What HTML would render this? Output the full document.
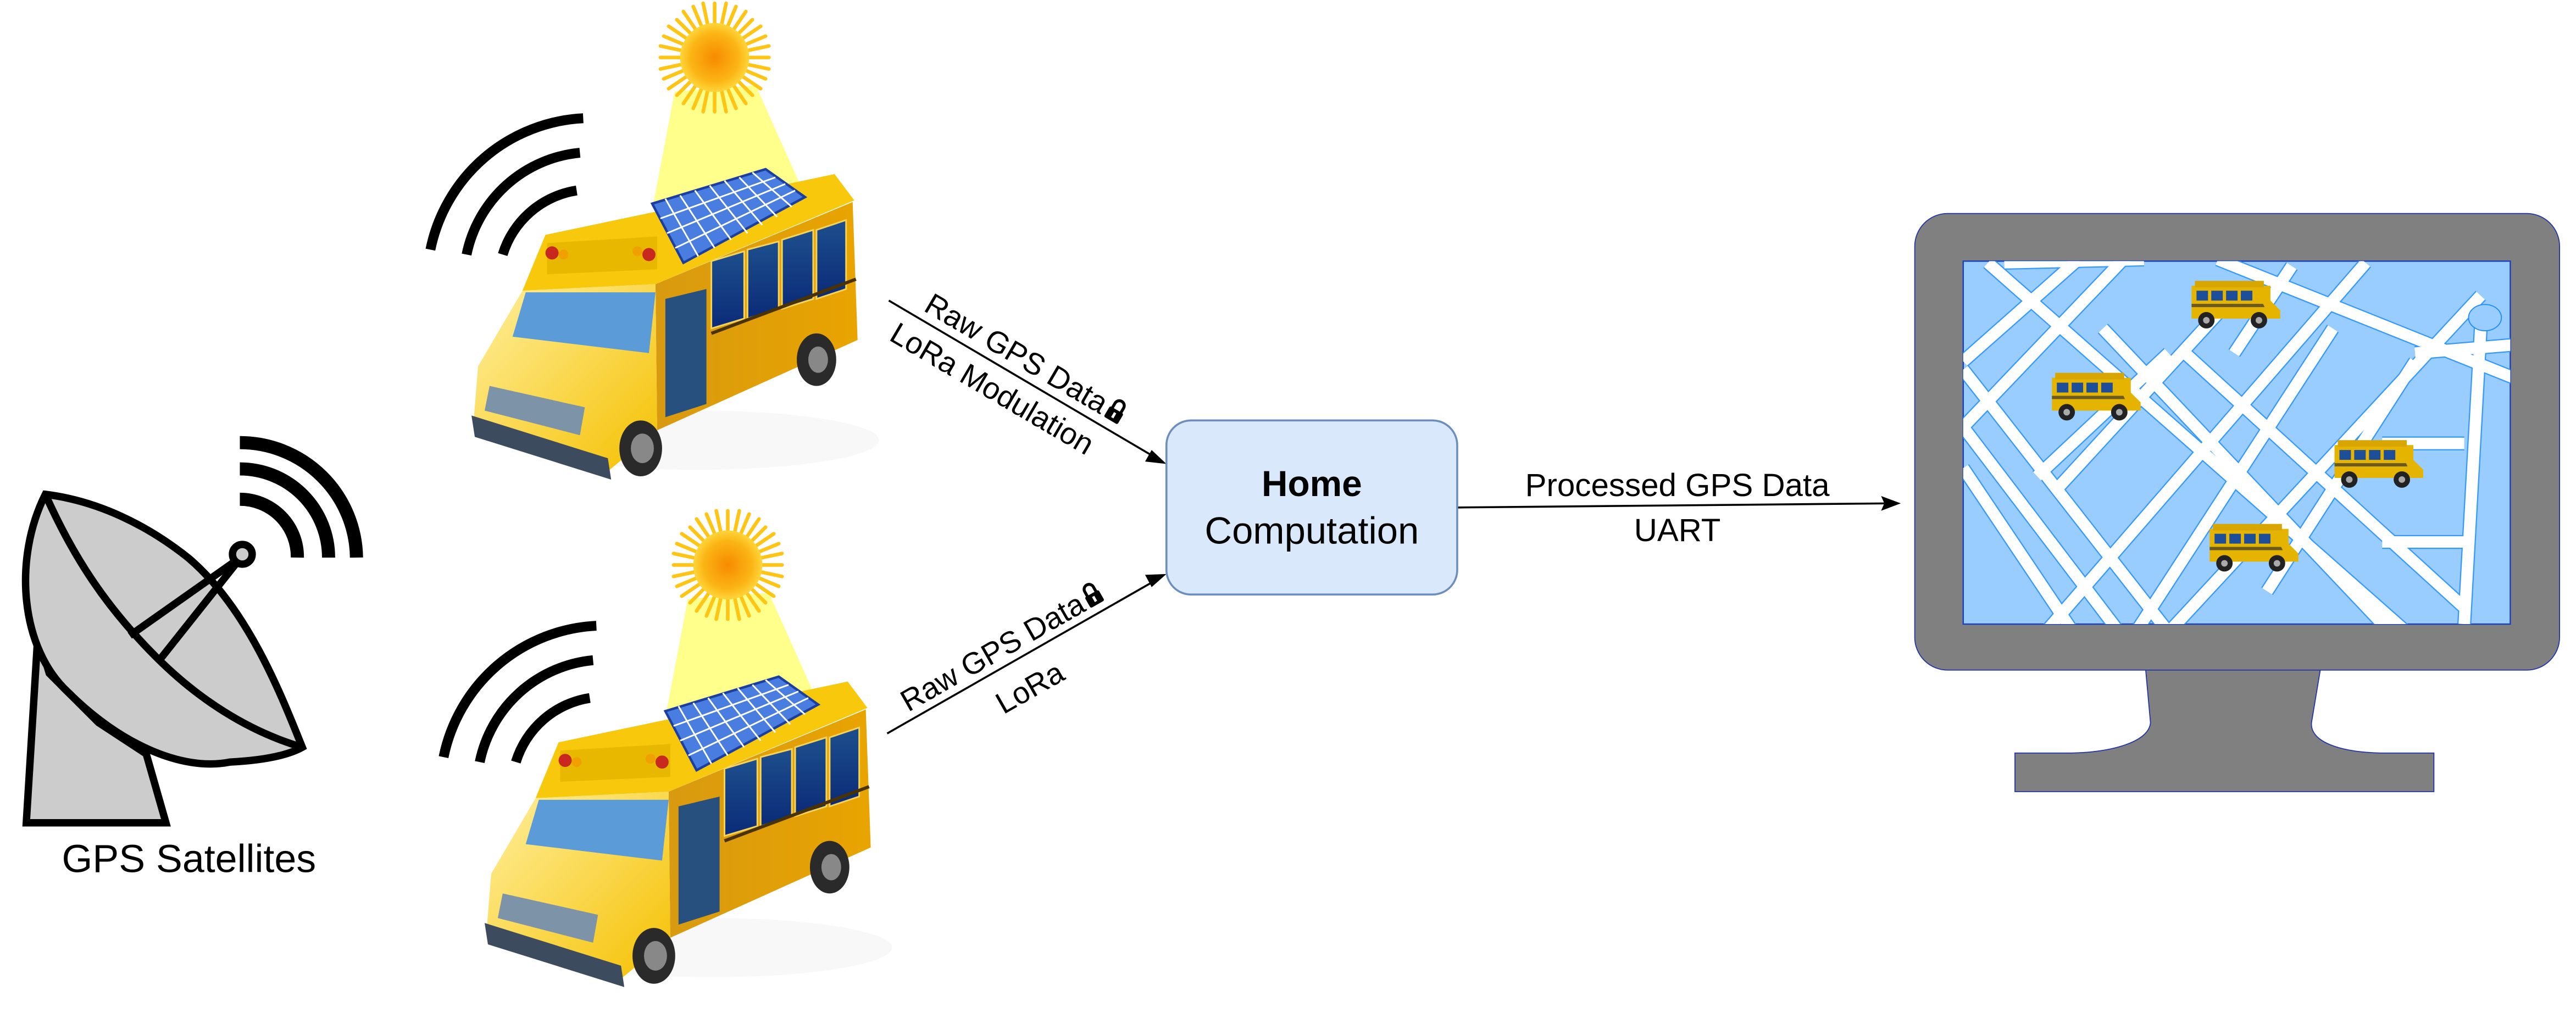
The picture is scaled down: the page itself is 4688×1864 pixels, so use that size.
<!DOCTYPE html>
<html><head><meta charset="utf-8"><style>
html,body{margin:0;padding:0;background:#fff;}
svg{display:block;}
text{font-family:"Liberation Sans",Arial,sans-serif;fill:#000;}
</style></head><body>
<svg width="4688" height="1864" viewBox="0 0 1568 623.5" preserveAspectRatio="none" xmlns="http://www.w3.org/2000/svg">
<defs>
  <radialGradient id="sunG" cx="50%" cy="50%" r="50%">
    <stop offset="0" stop-color="#f78a00"/><stop offset="0.7" stop-color="#fbb515"/><stop offset="1" stop-color="#ffd53a"/>
  </radialGradient>
  <linearGradient id="side" x1="0" y1="0" x2="1" y2="0">
    <stop offset="0" stop-color="#d89a10"/><stop offset="1" stop-color="#e9a400"/>
  </linearGradient>
  <linearGradient id="front" x1="0" y1="0" x2="1" y2="1">
    <stop offset="0" stop-color="#fff0a0"/><stop offset="1" stop-color="#f5c000"/>
  </linearGradient>
  <linearGradient id="win" x1="0" y1="0" x2="0" y2="1">
    <stop offset="0" stop-color="#1d4f8c"/><stop offset="1" stop-color="#0b2b78"/>
  </linearGradient>
  <clipPath id="scr"><rect x="1195" y="159" width="333" height="221"/></clipPath>
  <g id="sun">
    <g stroke="#ffc414" stroke-width="2.2" stroke-linecap="round">
      <line x1="435" y1="2" x2="435" y2="68"/><line x1="402" y1="35" x2="468" y2="35"/>
      <line x1="412" y1="12" x2="458" y2="58"/><line x1="458" y1="12" x2="412" y2="58"/>
      <line x1="422" y1="4" x2="448" y2="66"/><line x1="448" y1="4" x2="422" y2="66"/>
      <line x1="404" y1="22" x2="466" y2="48"/><line x1="404" y1="48" x2="466" y2="22"/>
      <line x1="428" y1="2" x2="442" y2="68"/><line x1="442" y1="2" x2="428" y2="68"/>
      <line x1="402" y1="28" x2="468" y2="42"/><line x1="402" y1="42" x2="468" y2="28"/>
      <line x1="416" y1="7" x2="454" y2="63"/><line x1="454" y1="7" x2="416" y2="63"/>
      <line x1="407" y1="16" x2="463" y2="54"/><line x1="407" y1="54" x2="463" y2="16"/>
    </g>
    <circle cx="435" cy="35" r="21" fill="url(#sunG)"/>
  </g>
  <g id="bus">
    <ellipse cx="425" cy="268" rx="110" ry="18" fill="#f2f2f2" opacity="0.5"/>
    <polygon points="410.7,55.7 460,52 490,119 397.9,123" fill="#ffff80" opacity="0.9"/>
    <polygon points="399,173 519,123 522,207 400,262" fill="url(#side)"/>
    <polygon points="332,143 508,106 520,122 399,173 318,177" fill="#f7c80c"/>
    <polygon points="318,177 399,173 400,262 370,287 288,260 291,223" fill="url(#front)"/>
    <polygon points="320,178 399,178 395,215 312,205" fill="#5b9bd8"/>
    <polygon points="298,235 356,248 353,265 295,250" fill="#7d93a8"/>
    <polygon points="287,253 370,279 372,292 289,266" fill="#3c4c5e"/>
    <polygon points="433,159 453,153 453,194 433,200" fill="url(#win)" stroke="#f4d35a" stroke-width="1"/>
    <polygon points="455,152 474,147 474,188 455,194" fill="url(#win)" stroke="#f4d35a" stroke-width="1"/>
    <polygon points="476,146 495,140 495,182 476,188" fill="url(#win)" stroke="#f4d35a" stroke-width="1"/>
    <polygon points="497,140 515,134 515,176 497,182" fill="url(#win)" stroke="#f4d35a" stroke-width="1"/>
    <polygon points="405,182 430,176 430,246 405,254" fill="#27507e"/>
    <line x1="433" y1="203" x2="521" y2="170" stroke="#4a3300" stroke-width="2"/>
    <polygon points="333,148 400,144 400,164 333,167" fill="#e8b800"/>
    <circle cx="336" cy="154" r="4" fill="#c8281e"/><circle cx="343" cy="155" r="3" fill="#f0a000"/>
    <circle cx="388" cy="153" r="3" fill="#f0a000"/><circle cx="395" cy="155" r="4" fill="#c8281e"/>
    <ellipse cx="390" cy="273" rx="13" ry="17" fill="#2a2a2a"/><ellipse cx="391" cy="273" rx="7" ry="9" fill="#888"/>
    <ellipse cx="497" cy="219" rx="12" ry="16" fill="#2a2a2a"/><ellipse cx="498" cy="219" rx="6" ry="8" fill="#888"/>
    <polygon points="397,124 466,103 490,120 416,160" fill="#4a7de0" stroke="#1a3fa0" stroke-width="1.5"/>
    <g stroke="#fff" stroke-width="1">
      <line x1="402" y1="133" x2="472" y2="108"/><line x1="406" y1="142" x2="478" y2="112"/><line x1="411" y1="151" x2="484" y2="116"/>
      <line x1="405" y1="121" x2="425" y2="156"/><line x1="414" y1="119" x2="435" y2="151"/><line x1="423" y1="116" x2="445" y2="146"/>
      <line x1="432" y1="113" x2="455" y2="142"/><line x1="441" y1="110" x2="464" y2="137"/><line x1="450" y1="108" x2="473" y2="132"/><line x1="458" y1="105" x2="482" y2="126"/>
    </g>
    <use href="#sun"/>
    <g fill="none" stroke="#000" stroke-width="6">
      <path d="M355,72 A100,100 0 0 0 262,152"/>
      <path d="M353,93 A78,78 0 0 0 284,155"/>
      <path d="M351,116 A56,56 0 0 0 306,155"/>
    </g>
  </g>
  <g id="mb">
    <rect x="0" y="3" width="48" height="20" fill="#e5b400"/>
    <rect x="2" y="0" width="42" height="4" fill="#d9a600"/>
    <rect x="3" y="6" width="7" height="6" fill="#1c4e9a"/><rect x="12" y="6" width="7" height="6" fill="#1c4e9a"/><rect x="21" y="6" width="7" height="6" fill="#1c4e9a"/><rect x="30" y="6" width="7" height="6" fill="#1c4e9a"/>
    <rect x="0" y="14" width="48" height="2" fill="#6b5a20"/>
    <polygon points="39,5 48,12 54,18 54,23 48,23" fill="#e5b400"/>
    <circle cx="9" cy="24" r="5" fill="#222"/><circle cx="9" cy="24" r="2" fill="#aaa"/>
    <circle cx="41" cy="24" r="5" fill="#222"/><circle cx="41" cy="24" r="2" fill="#aaa"/>
  </g>
  <g id="lock">
    <path d="M-3,0 V-3.5 A3,3 0 0 1 3,-3.5 V0" fill="none" stroke="#000" stroke-width="1.8"/>
    <rect x="-4.8" y="-0.5" width="9.6" height="7.5" rx="1" fill="#000"/>
    <rect x="-0.8" y="1.5" width="1.6" height="3.5" fill="#fff"/>
  </g>
  <g id="roads">
    <line x1="1210" y1="160" x2="1465" y2="385"/>
    <line x1="1300" y1="150" x2="1195" y2="260"/>
    <line x1="1440" y1="160" x2="1245" y2="385"/>
    <line x1="1510" y1="180" x2="1320" y2="385"/>
    <line x1="1350" y1="158" x2="1530" y2="230"/>
    <line x1="1195" y1="225" x2="1320" y2="385"/>
    <line x1="1195" y1="260" x2="1290" y2="385"/>
    <line x1="1195" y1="285" x2="1262" y2="385"/>
    <line x1="1220" y1="160" x2="1305" y2="158"/>
    <line x1="1265" y1="158" x2="1195" y2="220"/>
    <line x1="1280" y1="200" x2="1455" y2="385"/>
    <line x1="1330" y1="215" x2="1500" y2="370"/>
    <line x1="1360" y1="180" x2="1250" y2="300"/>
    <line x1="1420" y1="200" x2="1300" y2="385"/>
    <line x1="1470" y1="220" x2="1380" y2="360"/>
    <line x1="1320" y1="215" x2="1240" y2="290"/>
    <line x1="1395" y1="162" x2="1360" y2="215"/>
    <path d="M1510,200 L1500,380"/>
    <path d="M1470,215 L1530,210"/>
    <path d="M1450,270 L1500,270"/>
    <path d="M1450,330 L1500,330"/>
  </g>
</defs>

<use href="#bus"/>
<use href="#bus" transform="translate(8,309)"/>

<!-- Dish -->
<g stroke="#000" stroke-width="4.5" stroke-linejoin="miter" fill="#cccccc">
  <polygon points="23,387 16,501 101,501 89,459 60,440 30,410"/>
  <path d="M27.6,301 C8,340 12,395 42,422 C72,452 110,470 140,464 C160,463 175,460 184,455 C170,420 150,370 115,340 C90,320 60,305 27.6,301 Z"/>
  <path d="M27.6,301 C45,340 65,370 95,400 C120,425 150,445 184,455" fill="none"/>
  <path d="M79,387 L147,339 M97,402 L147,339" fill="none"/>
  <ellipse cx="147.5" cy="337.5" rx="6" ry="6"/>
</g>
<g fill="none" stroke="#000" stroke-width="8">
  <path d="M146,304 A35,35 0 0 1 181,339.5"/>
  <path d="M146,285.5 A54,54 0 0 1 200,339.5"/>
  <path d="M146,269.5 A71,71 0 0 1 217,339.5"/>
</g>
<text x="115" y="531" font-size="24" text-anchor="middle">GPS Satellites</text>

<!-- connectors -->
<g stroke="#000" stroke-width="1.2" fill="none">
  <line x1="541" y1="183" x2="704" y2="279"/>
  <line x1="540" y1="446.6" x2="704" y2="353"/>
  <line x1="887" y1="309" x2="1150" y2="306.5"/>
</g>
<polygon points="710,282.5 697,281 701,274" fill="#000"/>
<polygon points="710,349.5 701,357.5 697,350" fill="#000"/>
<polygon points="1157,306.5 1145,311 1147,306.5 1145,302" fill="#000"/>

<g transform="translate(620,229) rotate(30.4)">
  <text x="-8" y="-5" font-size="18.5" text-anchor="middle">Raw GPS Data</text>
  <use href="#lock" x="62" y="-12"/>
  <text x="-10" y="21" font-size="18.5" text-anchor="middle">LoRa Modulation</text>
</g>
<g transform="translate(615,404) rotate(-29.7)">
  <text x="-6" y="-5" font-size="18.5" text-anchor="middle">Raw GPS Data</text>
  <use href="#lock" x="64" y="-12"/>
  <text x="3" y="25" font-size="18.5" text-anchor="middle">LoRa</text>
</g>

<!-- Home box -->
<rect x="710" y="256" width="177" height="106" rx="15" fill="#dae8fc" stroke="#6c8ebf" stroke-width="1.2"/>
<text x="798.5" y="302" font-size="22" font-weight="bold" text-anchor="middle">Home</text>
<text x="798.5" y="331" font-size="23" text-anchor="middle">Computation</text>

<text x="1021" y="302" font-size="19.5" text-anchor="middle">Processed GPS Data</text>
<text x="1021" y="329.5" font-size="19.5" text-anchor="middle">UART</text>

<!-- Monitor -->
<path d="M1306,407 L1309,440 C1308,452 1285,458 1261,458.5 L1226.5,458.5 L1226.5,482 L1481.5,482 L1481.5,458.5 L1449,458.5 C1425,458 1406,452 1407,440 L1412.5,407 Z" fill="#808080" stroke="#2233aa" stroke-width="0.6"/>
<rect x="1165.5" y="130" width="392.5" height="278" rx="20" fill="#808080" stroke="#2233aa" stroke-width="0.6"/>
<rect x="1195" y="159" width="333" height="221" fill="#99ccff" stroke="#1a3fbf" stroke-width="0.8"/>
<g clip-path="url(#scr)" fill="none">
  <use href="#roads" stroke="#3399ff" stroke-width="8.5"/>
  <use href="#roads" stroke="#fff" stroke-width="7"/>
</g>
<ellipse cx="1512.6" cy="193.4" rx="10" ry="8" fill="#99ccff" stroke="#1a8aff" stroke-width="0.6"/>
<use href="#mb" x="1334" y="171"/>
<use href="#mb" x="1249" y="227"/>
<use href="#mb" x="1421" y="268"/>
<use href="#mb" x="1345" y="319"/>
</svg>
</body></html>
